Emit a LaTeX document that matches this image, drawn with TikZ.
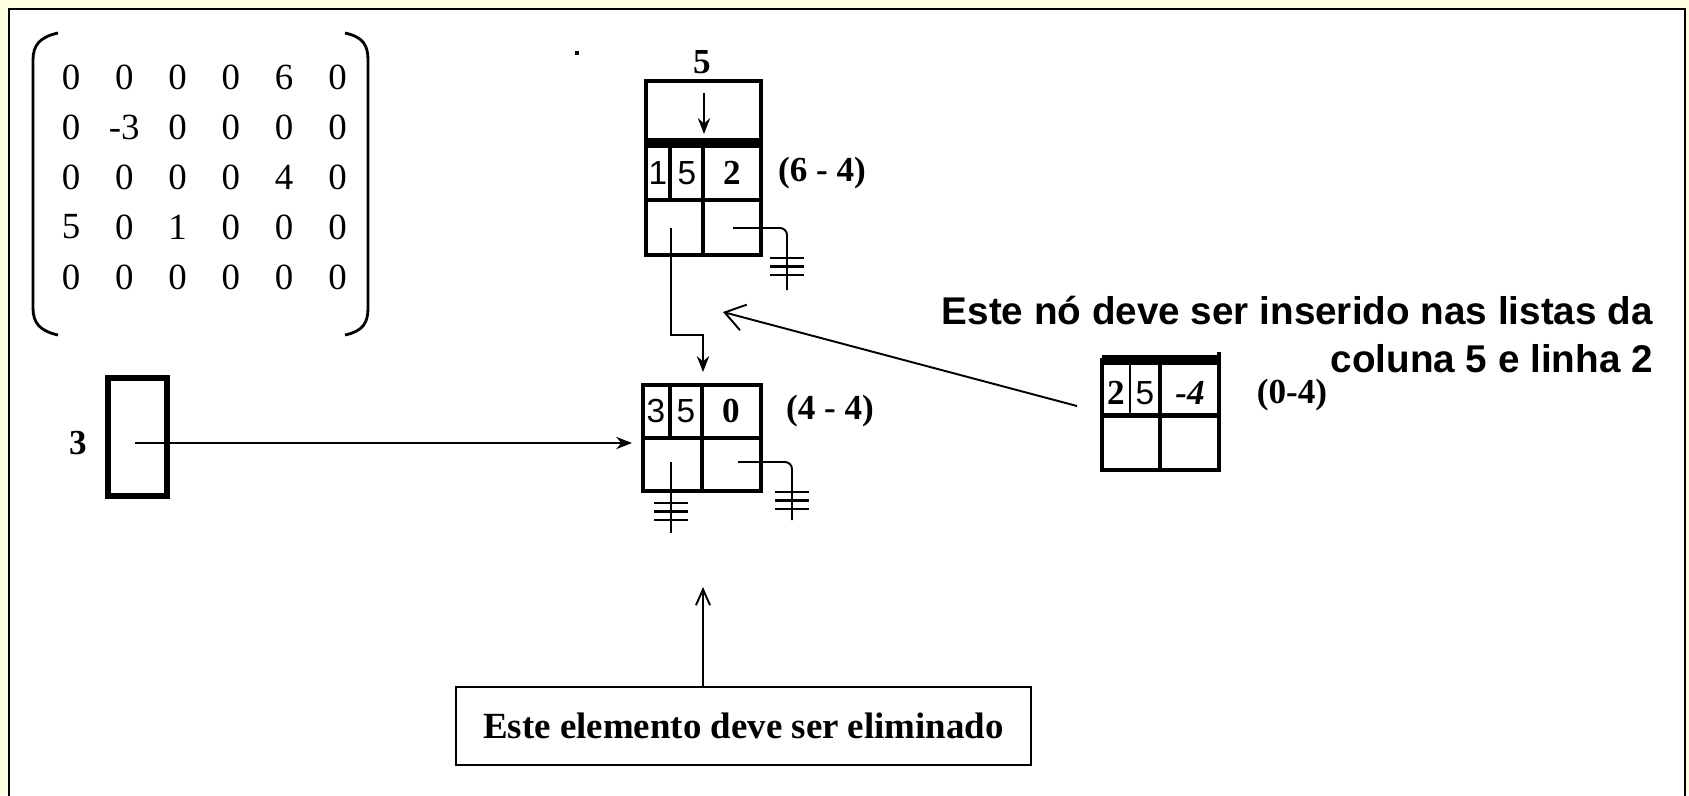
\documentclass[tikz,border=0pt]{standalone}
\usepackage{fontspec}
\setmainfont{Liberation Serif}
\setsansfont{Liberation Sans}
\usepackage{xcolor}
\usepackage{tikz}
\usetikzlibrary{arrows.meta}
\definecolor{fundo}{HTML}{FFFFE1}
\tikzset{
  moldura/.style={draw=black, line width=1.2pt, fill=white},
  caixa/.style={draw=black, line width=2.8pt},
  grossa/.style={draw=black, line width=5.6pt},
  fio/.style={draw=black, line width=1.1pt},
  parent/.style={draw=black, line width=1.6pt},
  seta/.style={fio, -{Stealth[length=9pt,width=7pt]}},
  setaaberta/.style={fio, -{Straight Barb[length=11pt,width=15pt]}},
  setafina/.style={fio, -{Straight Barb[length=9pt,width=8pt]}},
  num/.style={font=\fontsize{21}{24}\selectfont},
  rot/.style={font=\bfseries\fontsize{20}{24}\selectfont},
  fino/.style={font=\sffamily\fontsize{19}{22}\selectfont},
  aviso/.style={font=\sffamily\bfseries\fontsize{22}{26}\selectfont},
  terra/.pic={\draw[fio, line width=1.6pt] (-17,0) -- (17,0) (-17,8.5) -- (17,8.5) (-17,17) -- (17,17);}
}

\begin{document}
\begin{tikzpicture}[x=0.02cm, y=-0.02cm]
  \useasboundingbox (0,0) rectangle (1689,795);
  \fill[fundo] (0,0) rectangle (1689,795);
  \filldraw[moldura] (9,800) -- (9,9) -- (1685,9) -- (1685,800);

  % matriz esparsa
  \draw[parent] (58,33) .. controls (40,37) and (33,45) .. (33,60) -- (33,308)
    .. controls (33,323) and (40,331) .. (58,335);
  \draw[parent] (345,33) .. controls (363,37) and (368,45) .. (368,60) -- (368,308)
    .. controls (368,323) and (363,331) .. (345,335);
  \foreach \linha [count=\i from 0] in {{0,0,0,0,6,0},{0,-3,0,0,0,0},{0,0,0,0,4,0},{5,0,1,0,0,0},{0,0,0,0,0,0}}
    \foreach \v [count=\j from 0] in \linha
      \node[num] (m\i\j) at ({71+53.3*\j},{77+50*\i}) {\v};
  \fill (575,51) rectangle (579,55);

  % cabeca da coluna 5 e no (1,5)
  \node[rot] (c5) at (702,62) {5};
  \draw[caixa] (646,81) rectangle (761,255);
  \draw[grossa] (646,143) -- (761,143);
  \draw[caixa] (646,200) -- (761,200);
  \draw[caixa] (670,143) -- (670,200);
  \draw[caixa] (703,143) -- (703,255);
  \node[fino] (c5lin) at (658,173) {1};
  \node[fino] (c5col) at (687,173) {5};
  \node[rot] (c5val) at (732,173) {2};
  \node[rot] (c5rot) at (822,173) {(6 - 4)};
  \coordinate (c5topo) at (704,93);
  \coordinate (c5fim) at (704,134);
  \coordinate (c5abaixo) at (671,228);
  \coordinate (c5dir) at (733,228);

  % no (3,5) a eliminar
  \draw[caixa] (643,385) rectangle (761,491);
  \draw[caixa] (643,438) -- (761,438);
  \draw[caixa] (670,385) -- (670,438);
  \draw[caixa] (702,385) -- (702,491);
  \node[fino] (e3lin) at (656,411) {3};
  \node[fino] (e3col) at (686,411) {5};
  \node[rot] (e3val) at (731,411) {0};
  \node[rot] (e3rot) at (830,411) {(4 - 4)};
  \coordinate (e3ent) at (703,372);
  \coordinate (e3lado) at (632,443);
  \coordinate (e3abaixo) at (671,462);
  \coordinate (e3dir) at (738,462);

  % cabeca da linha 3
  \node[rot] (l3) at (78,443) {3};
  \node[draw, line width=3.5pt, minimum width=1.18cm, minimum height=2.36cm] (c3) at (137.5,437) {};
  \coordinate (c3p) at (135,443);

  % novo no (2,5)
  \draw[caixa] (1102,360) rectangle (1219,470);
  \draw[grossa] (1102,360) -- (1219,360);
  \draw[caixa] (1219,352) -- (1219,362);
  \draw[caixa] (1102,415.5) -- (1219,415.5);
  \draw[fio] (1130,360) -- (1130,415);
  \draw[caixa] (1160,360) -- (1160,470);
  \node[rot] (nlin) at (1116,393) {2};
  \node[fino] (ncol) at (1145,393) {5};
  \node[rot] (nval) at (1190,393) {\itshape -4};
  \node[rot] (nrot) at (1292,395) {(0-4)};
  \coordinate (nptr) at (1077,406);
  \coordinate (alvo) at (723,312);

  \node[aviso, anchor=base east] (aviso1) at (1659,324) {Este nó deve ser inserido nas listas da};
  \node[aviso, anchor=base east] (aviso2) at (1659,372) {coluna 5 e linha 2};

  \node[draw, line width=1.6pt, minimum width=11.5cm, minimum height=1.56cm,
    font=\bfseries\fontsize{21}{24}\selectfont] (msg) at (743.5,726) {Este elemento deve ser eliminado};
  \coordinate (elim) at (703,587);

  % ponteiros
  \draw[seta] (c5topo) -- (c5fim);
  \draw[seta] (c5abaixo) -- ++(0,107) -| (e3ent);
  \draw[fio, rounded corners=4pt] (c5dir) -- (787,228) -- (787,290);
  \pic at (787,258) {terra};
  \draw[fio] (e3abaixo) -- (671,533);
  \pic at (671,503) {terra};
  \draw[fio, rounded corners=4pt] (e3dir) -- (792,462) -- (792,520);
  \pic at (792,492) {terra};
  \draw[seta] (c3p) -- (e3lado);
  \draw[setaaberta] (nptr) -- (alvo);
  \draw[setafina] (msg.north -| elim) -- (elim);
\end{tikzpicture}
\end{document}
